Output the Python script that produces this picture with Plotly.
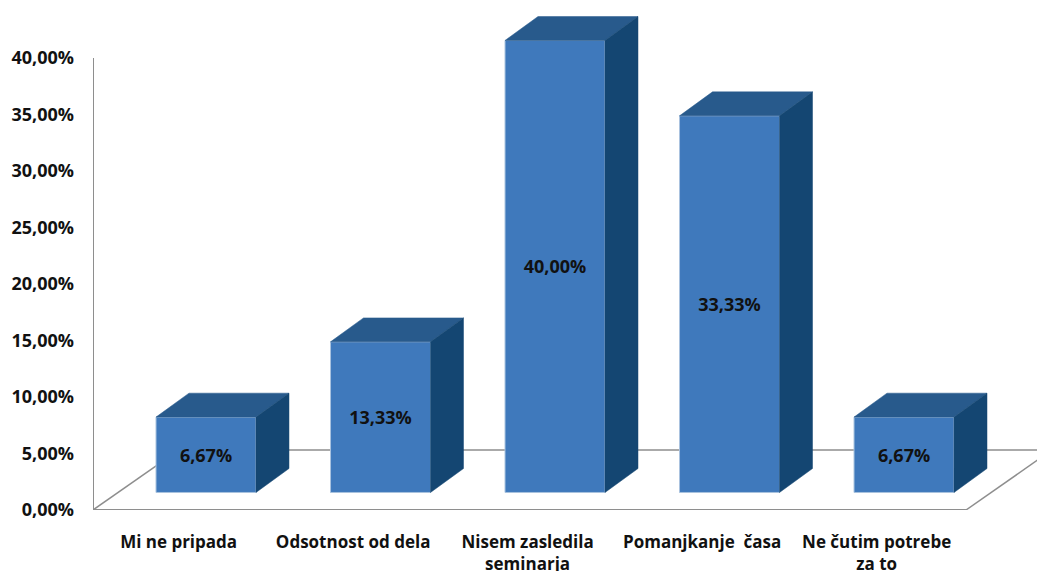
import plotly.graph_objects as go

categories = ["Mi ne pripada", "Odsotnost od dela", "Nisem zasledila<br>seminarja",
              "Pomanjkanje  časa", "Ne čutim potrebe<br>za to"]
values = [6.67, 13.33, 40.00, 33.33, 6.67]
y_ticks = [0, 5, 10, 15, 20, 25, 30, 35, 40]
y_tick_labels = ["0,00%", "5,00%", "10,00%", "15,00%", "20,00%",
                 "25,00%", "30,00%", "35,00%", "40,00%"]

FRONT = "#3F79BC"
TOP = "#285A8C"
SIDE = "#144672"
EDGE = "#A9C3DF"
GRID = "#8E8E8E"
TEXT = "#111111"
FONT = "Open Sans"

positions = list(range(len(categories)))
bar_width = 0.573
base = 1.55         # gap between the floor's front edge and the bars
depth_x = 0.189     # oblique offset of a bar's rear face
depth_y = 2.12
wall_x = 0.493      # oblique offset of the rear floor edge
wall_y = 5.31
x_min, x_max = -0.6476, 4.762
floor_right = 4.355
label_shift = 0.157 # category labels sit left of their boxes

fig = go.Figure()

# Top and right faces of each box, projected from the bar's value
for x, v in zip(positions, values):
    left, right = x - bar_width / 2, x + bar_width / 2
    low, high = base, base + v
    fig.add_trace(go.Scatter(
        x=[left, right, right + depth_x, left + depth_x, left],
        y=[high, high, high + depth_y, high + depth_y, high],
        fill="toself", fillcolor=TOP, mode="lines",
        line=dict(color=TOP, width=0.5), hoverinfo="skip", showlegend=False))
    fig.add_trace(go.Scatter(
        x=[right, right + depth_x, right + depth_x, right, right],
        y=[low, low + depth_y, high + depth_y, high, low],
        fill="toself", fillcolor=SIDE, mode="lines",
        line=dict(color=SIDE, width=0.5), hoverinfo="skip", showlegend=False))

# Front faces with their value labels
fig.add_trace(go.Bar(
    x=positions, y=values, base=base, width=bar_width,
    marker=dict(color=FRONT, line=dict(color=EDGE, width=1)),
    texttemplate="%{y:.2f}%", textposition="inside", insidetextanchor="middle",
    textangle=0, constraintext="none",
    insidetextfont=dict(family=FONT, size=18, color=TEXT, weight="bold"),
    showlegend=False))

# Floor outline and value axis, kept beneath the boxes
frame = [
    (x_min, 0, x_min, 40, 2),
    (x_min, 0, floor_right, 0, 2),
    (x_min, 0, x_min + wall_x, wall_y, 1.5),
    (x_min + wall_x, wall_y, x_max, wall_y, 1.5),
    (floor_right, 0, floor_right + wall_x, wall_y, 1.5),
]
for x0, y0, x1, y1, w in frame:
    fig.add_shape(type="line", x0=x0, y0=y0, x1=x1, y1=y1, layer="below",
                  line=dict(color=GRID, width=w))

fig.update_layout(
    width=1037, height=571,
    margin=dict(l=93, r=0, t=0, b=61, autoexpand=False),
    paper_bgcolor="white", plot_bgcolor="white",
    showlegend=False, separators=",.",
    xaxis=dict(
        range=[x_min, x_max],
        tickvals=[p - label_shift for p in positions], ticktext=categories,
        showgrid=False, zeroline=False, showline=False, ticks="",
        ticklabelstandoff=20, tickangle=0, automargin=False,
        tickfont=dict(family=FONT, size=17, color=TEXT, weight="bold")),
    yaxis=dict(
        range=[0, 45.13], tickvals=y_ticks, ticktext=y_tick_labels,
        showgrid=False, zeroline=False, showline=False, ticks="",
        ticklabelstandoff=18, automargin=False,
        tickfont=dict(family=FONT, size=18, color=TEXT, weight="bold")),
)

fig.write_html("out.html")
